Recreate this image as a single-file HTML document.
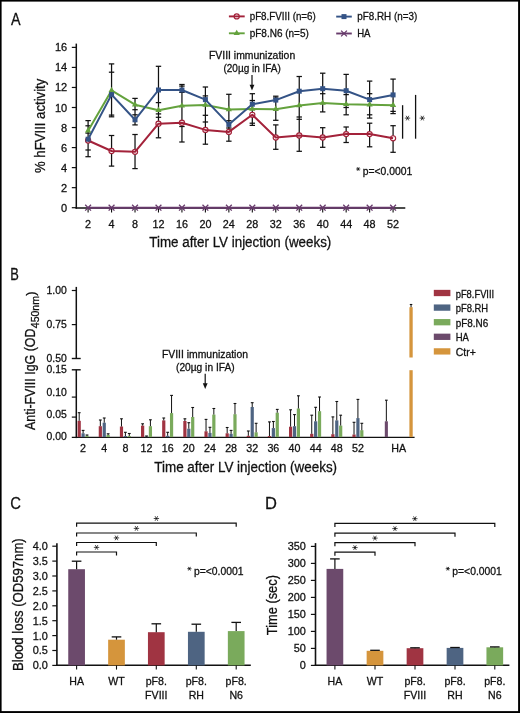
<!DOCTYPE html>
<html><head><meta charset="utf-8"><title>Figure</title>
<style>html,body{margin:0;padding:0;background:#fff;}svg{display:block;will-change:transform;}text{font-family:"Liberation Sans",sans-serif;stroke:#111111;stroke-width:0.28px;}</style>
</head><body>
<svg width="520" height="713" viewBox="0 0 520 713" font-family="Liberation Sans, sans-serif">
<rect x="0" y="0" width="520" height="713" fill="#fff"/>
<text transform="translate(11.10,25.40) scale(0.87,1)" x="0" y="0" font-size="16.5" fill="#111111">A</text>
<line x1="76.30" y1="43.60" x2="76.30" y2="208.70" stroke="#111111" stroke-width="1.5" />
<line x1="71.80" y1="207.70" x2="76.30" y2="207.70" stroke="#111111" stroke-width="1.2" />
<text x="67.20" y="211.70" font-size="11" text-anchor="end" fill="#111111" >0</text>
<line x1="71.80" y1="187.66" x2="76.30" y2="187.66" stroke="#111111" stroke-width="1.2" />
<text x="67.20" y="191.66" font-size="11" text-anchor="end" fill="#111111" >2</text>
<line x1="71.80" y1="167.62" x2="76.30" y2="167.62" stroke="#111111" stroke-width="1.2" />
<text x="67.20" y="171.62" font-size="11" text-anchor="end" fill="#111111" >4</text>
<line x1="71.80" y1="147.58" x2="76.30" y2="147.58" stroke="#111111" stroke-width="1.2" />
<text x="67.20" y="151.58" font-size="11" text-anchor="end" fill="#111111" >6</text>
<line x1="71.80" y1="127.54" x2="76.30" y2="127.54" stroke="#111111" stroke-width="1.2" />
<text x="67.20" y="131.54" font-size="11" text-anchor="end" fill="#111111" >8</text>
<line x1="71.80" y1="107.50" x2="76.30" y2="107.50" stroke="#111111" stroke-width="1.2" />
<text x="67.20" y="111.50" font-size="11" text-anchor="end" fill="#111111" >10</text>
<line x1="71.80" y1="87.46" x2="76.30" y2="87.46" stroke="#111111" stroke-width="1.2" />
<text x="67.20" y="91.46" font-size="11" text-anchor="end" fill="#111111" >12</text>
<line x1="71.80" y1="67.42" x2="76.30" y2="67.42" stroke="#111111" stroke-width="1.2" />
<text x="67.20" y="71.42" font-size="11" text-anchor="end" fill="#111111" >14</text>
<line x1="71.80" y1="47.38" x2="76.30" y2="47.38" stroke="#111111" stroke-width="1.2" />
<text x="67.20" y="51.38" font-size="11" text-anchor="end" fill="#111111" >16</text>
<line x1="75.60" y1="208.00" x2="405.30" y2="208.00" stroke="#111111" stroke-width="1.5" />
<line x1="88.10" y1="207.70" x2="88.10" y2="212.50" stroke="#111111" stroke-width="1.1" />
<line x1="111.56" y1="207.70" x2="111.56" y2="212.50" stroke="#111111" stroke-width="1.1" />
<line x1="135.02" y1="207.70" x2="135.02" y2="212.50" stroke="#111111" stroke-width="1.1" />
<line x1="158.48" y1="207.70" x2="158.48" y2="212.50" stroke="#111111" stroke-width="1.1" />
<line x1="181.94" y1="207.70" x2="181.94" y2="212.50" stroke="#111111" stroke-width="1.1" />
<line x1="205.40" y1="207.70" x2="205.40" y2="212.50" stroke="#111111" stroke-width="1.1" />
<line x1="228.86" y1="207.70" x2="228.86" y2="212.50" stroke="#111111" stroke-width="1.1" />
<line x1="252.32" y1="207.70" x2="252.32" y2="212.50" stroke="#111111" stroke-width="1.1" />
<line x1="275.78" y1="207.70" x2="275.78" y2="212.50" stroke="#111111" stroke-width="1.1" />
<line x1="299.24" y1="207.70" x2="299.24" y2="212.50" stroke="#111111" stroke-width="1.1" />
<line x1="322.70" y1="207.70" x2="322.70" y2="212.50" stroke="#111111" stroke-width="1.1" />
<line x1="346.16" y1="207.70" x2="346.16" y2="212.50" stroke="#111111" stroke-width="1.1" />
<line x1="369.62" y1="207.70" x2="369.62" y2="212.50" stroke="#111111" stroke-width="1.1" />
<line x1="393.08" y1="207.70" x2="393.08" y2="212.50" stroke="#111111" stroke-width="1.1" />
<text x="88.10" y="227.70" font-size="10.8" text-anchor="middle" fill="#111111" >2</text>
<text x="111.56" y="227.70" font-size="10.8" text-anchor="middle" fill="#111111" >4</text>
<text x="135.02" y="227.70" font-size="10.8" text-anchor="middle" fill="#111111" >8</text>
<text x="158.48" y="227.70" font-size="10.8" text-anchor="middle" fill="#111111" >12</text>
<text x="181.94" y="227.70" font-size="10.8" text-anchor="middle" fill="#111111" >16</text>
<text x="205.40" y="227.70" font-size="10.8" text-anchor="middle" fill="#111111" >20</text>
<text x="228.86" y="227.70" font-size="10.8" text-anchor="middle" fill="#111111" >24</text>
<text x="252.32" y="227.70" font-size="10.8" text-anchor="middle" fill="#111111" >28</text>
<text x="275.78" y="227.70" font-size="10.8" text-anchor="middle" fill="#111111" >32</text>
<text x="299.24" y="227.70" font-size="10.8" text-anchor="middle" fill="#111111" >36</text>
<text x="322.70" y="227.70" font-size="10.8" text-anchor="middle" fill="#111111" >40</text>
<text x="346.16" y="227.70" font-size="10.8" text-anchor="middle" fill="#111111" >44</text>
<text x="369.62" y="227.70" font-size="10.8" text-anchor="middle" fill="#111111" >48</text>
<text x="393.08" y="227.70" font-size="10.8" text-anchor="middle" fill="#111111" >52</text>
<text x="149.30" y="247.10" font-size="14" text-anchor="start" fill="#111111" textLength="182.00" lengthAdjust="spacingAndGlyphs" >Time after LV injection (weeks)</text>
<text transform="translate(45.00,173.00) rotate(-90)" x="0" y="0" font-size="14" fill="#111111" textLength="94.30" lengthAdjust="spacingAndGlyphs">% hFVIII activity</text>
<line x1="88.10" y1="207.70" x2="393.08" y2="207.70" stroke="#673a6b" stroke-width="1.9"/>
<line x1="88.10" y1="120.60" x2="88.10" y2="156.70" stroke="#111111" stroke-width="1.25" />
<line x1="85.40" y1="120.60" x2="90.80" y2="120.60" stroke="#111111" stroke-width="1.25" />
<line x1="85.40" y1="125.80" x2="90.80" y2="125.80" stroke="#111111" stroke-width="1.25" />
<line x1="85.40" y1="133.10" x2="90.80" y2="133.10" stroke="#111111" stroke-width="1.25" />
<line x1="85.40" y1="150.00" x2="90.80" y2="150.00" stroke="#111111" stroke-width="1.25" />
<line x1="85.40" y1="156.70" x2="90.80" y2="156.70" stroke="#111111" stroke-width="1.25" />
<line x1="111.56" y1="63.90" x2="111.56" y2="116.80" stroke="#111111" stroke-width="1.25" />
<line x1="111.56" y1="135.50" x2="111.56" y2="166.10" stroke="#111111" stroke-width="1.25" />
<line x1="108.86" y1="63.90" x2="114.26" y2="63.90" stroke="#111111" stroke-width="1.25" />
<line x1="108.86" y1="72.20" x2="114.26" y2="72.20" stroke="#111111" stroke-width="1.25" />
<line x1="108.86" y1="115.10" x2="114.26" y2="115.10" stroke="#111111" stroke-width="1.25" />
<line x1="108.86" y1="116.80" x2="114.26" y2="116.80" stroke="#111111" stroke-width="1.25" />
<line x1="108.86" y1="135.50" x2="114.26" y2="135.50" stroke="#111111" stroke-width="1.25" />
<line x1="108.86" y1="166.10" x2="114.26" y2="166.10" stroke="#111111" stroke-width="1.25" />
<line x1="135.02" y1="98.40" x2="135.02" y2="124.90" stroke="#111111" stroke-width="1.25" />
<line x1="135.02" y1="134.50" x2="135.02" y2="168.60" stroke="#111111" stroke-width="1.25" />
<line x1="132.32" y1="98.40" x2="137.72" y2="98.40" stroke="#111111" stroke-width="1.25" />
<line x1="132.32" y1="109.70" x2="137.72" y2="109.70" stroke="#111111" stroke-width="1.25" />
<line x1="132.32" y1="114.80" x2="137.72" y2="114.80" stroke="#111111" stroke-width="1.25" />
<line x1="132.32" y1="124.90" x2="137.72" y2="124.90" stroke="#111111" stroke-width="1.25" />
<line x1="132.32" y1="134.50" x2="137.72" y2="134.50" stroke="#111111" stroke-width="1.25" />
<line x1="132.32" y1="168.60" x2="137.72" y2="168.60" stroke="#111111" stroke-width="1.25" />
<line x1="158.48" y1="66.30" x2="158.48" y2="137.80" stroke="#111111" stroke-width="1.25" />
<line x1="155.78" y1="66.30" x2="161.18" y2="66.30" stroke="#111111" stroke-width="1.25" />
<line x1="155.78" y1="102.60" x2="161.18" y2="102.60" stroke="#111111" stroke-width="1.25" />
<line x1="155.78" y1="113.90" x2="161.18" y2="113.90" stroke="#111111" stroke-width="1.25" />
<line x1="155.78" y1="117.30" x2="161.18" y2="117.30" stroke="#111111" stroke-width="1.25" />
<line x1="155.78" y1="137.80" x2="161.18" y2="137.80" stroke="#111111" stroke-width="1.25" />
<line x1="181.94" y1="84.50" x2="181.94" y2="142.00" stroke="#111111" stroke-width="1.25" />
<line x1="179.24" y1="84.50" x2="184.64" y2="84.50" stroke="#111111" stroke-width="1.25" />
<line x1="179.24" y1="86.10" x2="184.64" y2="86.10" stroke="#111111" stroke-width="1.25" />
<line x1="179.24" y1="92.40" x2="184.64" y2="92.40" stroke="#111111" stroke-width="1.25" />
<line x1="179.24" y1="126.50" x2="184.64" y2="126.50" stroke="#111111" stroke-width="1.25" />
<line x1="179.24" y1="142.00" x2="184.64" y2="142.00" stroke="#111111" stroke-width="1.25" />
<line x1="205.40" y1="87.00" x2="205.40" y2="144.20" stroke="#111111" stroke-width="1.25" />
<line x1="202.70" y1="87.00" x2="208.10" y2="87.00" stroke="#111111" stroke-width="1.25" />
<line x1="202.70" y1="95.90" x2="208.10" y2="95.90" stroke="#111111" stroke-width="1.25" />
<line x1="202.70" y1="115.30" x2="208.10" y2="115.30" stroke="#111111" stroke-width="1.25" />
<line x1="202.70" y1="122.00" x2="208.10" y2="122.00" stroke="#111111" stroke-width="1.25" />
<line x1="202.70" y1="144.20" x2="208.10" y2="144.20" stroke="#111111" stroke-width="1.25" />
<line x1="228.86" y1="94.30" x2="228.86" y2="141.20" stroke="#111111" stroke-width="1.25" />
<line x1="226.16" y1="94.30" x2="231.56" y2="94.30" stroke="#111111" stroke-width="1.25" />
<line x1="226.16" y1="120.70" x2="231.56" y2="120.70" stroke="#111111" stroke-width="1.25" />
<line x1="226.16" y1="128.00" x2="231.56" y2="128.00" stroke="#111111" stroke-width="1.25" />
<line x1="226.16" y1="141.20" x2="231.56" y2="141.20" stroke="#111111" stroke-width="1.25" />
<line x1="252.32" y1="93.70" x2="252.32" y2="125.40" stroke="#111111" stroke-width="1.25" />
<line x1="249.62" y1="93.70" x2="255.02" y2="93.70" stroke="#111111" stroke-width="1.25" />
<line x1="249.62" y1="100.50" x2="255.02" y2="100.50" stroke="#111111" stroke-width="1.25" />
<line x1="249.62" y1="123.20" x2="255.02" y2="123.20" stroke="#111111" stroke-width="1.25" />
<line x1="249.62" y1="125.40" x2="255.02" y2="125.40" stroke="#111111" stroke-width="1.25" />
<line x1="275.78" y1="96.20" x2="275.78" y2="120.30" stroke="#111111" stroke-width="1.25" />
<line x1="275.78" y1="124.90" x2="275.78" y2="149.30" stroke="#111111" stroke-width="1.25" />
<line x1="273.08" y1="96.20" x2="278.48" y2="96.20" stroke="#111111" stroke-width="1.25" />
<line x1="273.08" y1="98.00" x2="278.48" y2="98.00" stroke="#111111" stroke-width="1.25" />
<line x1="273.08" y1="120.30" x2="278.48" y2="120.30" stroke="#111111" stroke-width="1.25" />
<line x1="273.08" y1="124.90" x2="278.48" y2="124.90" stroke="#111111" stroke-width="1.25" />
<line x1="273.08" y1="149.30" x2="278.48" y2="149.30" stroke="#111111" stroke-width="1.25" />
<line x1="299.24" y1="76.50" x2="299.24" y2="151.30" stroke="#111111" stroke-width="1.25" />
<line x1="296.54" y1="76.50" x2="301.94" y2="76.50" stroke="#111111" stroke-width="1.25" />
<line x1="296.54" y1="117.00" x2="301.94" y2="117.00" stroke="#111111" stroke-width="1.25" />
<line x1="296.54" y1="119.30" x2="301.94" y2="119.30" stroke="#111111" stroke-width="1.25" />
<line x1="296.54" y1="151.30" x2="301.94" y2="151.30" stroke="#111111" stroke-width="1.25" />
<line x1="322.70" y1="73.20" x2="322.70" y2="111.90" stroke="#111111" stroke-width="1.25" />
<line x1="322.70" y1="127.70" x2="322.70" y2="147.30" stroke="#111111" stroke-width="1.25" />
<line x1="320.00" y1="73.20" x2="325.40" y2="73.20" stroke="#111111" stroke-width="1.25" />
<line x1="320.00" y1="93.70" x2="325.40" y2="93.70" stroke="#111111" stroke-width="1.25" />
<line x1="320.00" y1="111.90" x2="325.40" y2="111.90" stroke="#111111" stroke-width="1.25" />
<line x1="320.00" y1="127.70" x2="325.40" y2="127.70" stroke="#111111" stroke-width="1.25" />
<line x1="320.00" y1="147.30" x2="325.40" y2="147.30" stroke="#111111" stroke-width="1.25" />
<line x1="346.16" y1="74.40" x2="346.16" y2="114.80" stroke="#111111" stroke-width="1.25" />
<line x1="346.16" y1="127.00" x2="346.16" y2="142.50" stroke="#111111" stroke-width="1.25" />
<line x1="343.46" y1="74.40" x2="348.86" y2="74.40" stroke="#111111" stroke-width="1.25" />
<line x1="343.46" y1="94.60" x2="348.86" y2="94.60" stroke="#111111" stroke-width="1.25" />
<line x1="343.46" y1="107.50" x2="348.86" y2="107.50" stroke="#111111" stroke-width="1.25" />
<line x1="343.46" y1="114.80" x2="348.86" y2="114.80" stroke="#111111" stroke-width="1.25" />
<line x1="343.46" y1="127.00" x2="348.86" y2="127.00" stroke="#111111" stroke-width="1.25" />
<line x1="343.46" y1="142.50" x2="348.86" y2="142.50" stroke="#111111" stroke-width="1.25" />
<line x1="369.62" y1="81.10" x2="369.62" y2="118.10" stroke="#111111" stroke-width="1.25" />
<line x1="369.62" y1="123.20" x2="369.62" y2="146.80" stroke="#111111" stroke-width="1.25" />
<line x1="366.92" y1="81.10" x2="372.32" y2="81.10" stroke="#111111" stroke-width="1.25" />
<line x1="366.92" y1="93.70" x2="372.32" y2="93.70" stroke="#111111" stroke-width="1.25" />
<line x1="366.92" y1="114.80" x2="372.32" y2="114.80" stroke="#111111" stroke-width="1.25" />
<line x1="366.92" y1="118.10" x2="372.32" y2="118.10" stroke="#111111" stroke-width="1.25" />
<line x1="366.92" y1="123.20" x2="372.32" y2="123.20" stroke="#111111" stroke-width="1.25" />
<line x1="366.92" y1="146.80" x2="372.32" y2="146.80" stroke="#111111" stroke-width="1.25" />
<line x1="393.08" y1="79.10" x2="393.08" y2="113.60" stroke="#111111" stroke-width="1.25" />
<line x1="393.08" y1="125.70" x2="393.08" y2="152.30" stroke="#111111" stroke-width="1.25" />
<line x1="390.38" y1="79.10" x2="395.78" y2="79.10" stroke="#111111" stroke-width="1.25" />
<line x1="390.38" y1="111.40" x2="395.78" y2="111.40" stroke="#111111" stroke-width="1.25" />
<line x1="390.38" y1="113.60" x2="395.78" y2="113.60" stroke="#111111" stroke-width="1.25" />
<line x1="390.38" y1="125.70" x2="395.78" y2="125.70" stroke="#111111" stroke-width="1.25" />
<line x1="390.38" y1="152.30" x2="395.78" y2="152.30" stroke="#111111" stroke-width="1.25" />
<circle cx="88.10" cy="140.50" r="2.55" fill="#fff"/>
<circle cx="111.56" cy="151.00" r="2.55" fill="#fff"/>
<circle cx="135.02" cy="151.80" r="2.55" fill="#fff"/>
<circle cx="158.48" cy="123.70" r="2.55" fill="#fff"/>
<circle cx="181.94" cy="122.70" r="2.55" fill="#fff"/>
<circle cx="205.40" cy="129.90" r="2.55" fill="#fff"/>
<circle cx="228.86" cy="131.90" r="2.55" fill="#fff"/>
<circle cx="252.32" cy="114.80" r="2.55" fill="#fff"/>
<circle cx="275.78" cy="137.50" r="2.55" fill="#fff"/>
<circle cx="299.24" cy="135.50" r="2.55" fill="#fff"/>
<circle cx="322.70" cy="137.50" r="2.55" fill="#fff"/>
<circle cx="346.16" cy="134.10" r="2.55" fill="#fff"/>
<circle cx="369.62" cy="134.10" r="2.55" fill="#fff"/>
<circle cx="393.08" cy="138.30" r="2.55" fill="#fff"/>
<polyline points="88.10,140.50 111.56,151.00 135.02,151.80 158.48,123.70 181.94,122.70 205.40,129.90 228.86,131.90 252.32,114.80 275.78,137.50 299.24,135.50 322.70,137.50 346.16,134.10 369.62,134.10 393.08,138.30" fill="none" stroke="#a3223a" stroke-width="2.0" stroke-linejoin="round"/>
<polyline points="88.10,130.70 111.56,90.40 135.02,104.70 158.48,110.20 181.94,105.80 205.40,105.00 228.86,109.40 252.32,108.90 275.78,109.20 299.24,105.50 322.70,103.00 346.16,104.30 369.62,104.70 393.08,105.20" fill="none" stroke="#64a23d" stroke-width="2.0" stroke-linejoin="round"/>
<polyline points="88.10,139.20 111.56,94.60 135.02,119.80 158.48,90.00 181.94,90.00 205.40,99.60 228.86,124.40 252.32,104.20 275.78,100.10 299.24,91.20 322.70,88.70 346.16,90.70 369.62,99.60 393.08,94.90" fill="none" stroke="#345386" stroke-width="2.0" stroke-linejoin="round"/>
<circle cx="88.10" cy="140.50" r="2.55" fill="none" stroke="#a3223a" stroke-width="1.2"/>
<polygon points="85.00,132.50 91.20,132.50 88.10,127.10" fill="#64a23d"/>
<rect x="85.60" y="136.70" width="5.00" height="5.00" fill="#345386"/>
<path d="M85.20,204.80L91.00,210.60M85.20,210.60L91.00,204.80" stroke="#673a6b" stroke-width="1.3"/>
<circle cx="111.56" cy="151.00" r="2.55" fill="none" stroke="#a3223a" stroke-width="1.2"/>
<polygon points="108.46,92.20 114.66,92.20 111.56,86.80" fill="#64a23d"/>
<rect x="109.06" y="92.10" width="5.00" height="5.00" fill="#345386"/>
<path d="M108.66,204.80L114.46,210.60M108.66,210.60L114.46,204.80" stroke="#673a6b" stroke-width="1.3"/>
<circle cx="135.02" cy="151.80" r="2.55" fill="none" stroke="#a3223a" stroke-width="1.2"/>
<polygon points="131.92,106.50 138.12,106.50 135.02,101.10" fill="#64a23d"/>
<rect x="132.52" y="117.30" width="5.00" height="5.00" fill="#345386"/>
<path d="M132.12,204.80L137.92,210.60M132.12,210.60L137.92,204.80" stroke="#673a6b" stroke-width="1.3"/>
<circle cx="158.48" cy="123.70" r="2.55" fill="none" stroke="#a3223a" stroke-width="1.2"/>
<polygon points="155.38,112.00 161.58,112.00 158.48,106.60" fill="#64a23d"/>
<rect x="155.98" y="87.50" width="5.00" height="5.00" fill="#345386"/>
<path d="M155.58,204.80L161.38,210.60M155.58,210.60L161.38,204.80" stroke="#673a6b" stroke-width="1.3"/>
<circle cx="181.94" cy="122.70" r="2.55" fill="none" stroke="#a3223a" stroke-width="1.2"/>
<polygon points="178.84,107.60 185.04,107.60 181.94,102.20" fill="#64a23d"/>
<rect x="179.44" y="87.50" width="5.00" height="5.00" fill="#345386"/>
<path d="M179.04,204.80L184.84,210.60M179.04,210.60L184.84,204.80" stroke="#673a6b" stroke-width="1.3"/>
<circle cx="205.40" cy="129.90" r="2.55" fill="none" stroke="#a3223a" stroke-width="1.2"/>
<polygon points="202.30,106.80 208.50,106.80 205.40,101.40" fill="#64a23d"/>
<rect x="202.90" y="97.10" width="5.00" height="5.00" fill="#345386"/>
<path d="M202.50,204.80L208.30,210.60M202.50,210.60L208.30,204.80" stroke="#673a6b" stroke-width="1.3"/>
<circle cx="228.86" cy="131.90" r="2.55" fill="none" stroke="#a3223a" stroke-width="1.2"/>
<polygon points="225.76,111.20 231.96,111.20 228.86,105.80" fill="#64a23d"/>
<rect x="226.36" y="121.90" width="5.00" height="5.00" fill="#345386"/>
<path d="M225.96,204.80L231.76,210.60M225.96,210.60L231.76,204.80" stroke="#673a6b" stroke-width="1.3"/>
<circle cx="252.32" cy="114.80" r="2.55" fill="none" stroke="#a3223a" stroke-width="1.2"/>
<polygon points="249.22,110.70 255.42,110.70 252.32,105.30" fill="#64a23d"/>
<rect x="249.82" y="101.70" width="5.00" height="5.00" fill="#345386"/>
<path d="M249.42,204.80L255.22,210.60M249.42,210.60L255.22,204.80" stroke="#673a6b" stroke-width="1.3"/>
<circle cx="275.78" cy="137.50" r="2.55" fill="none" stroke="#a3223a" stroke-width="1.2"/>
<polygon points="272.68,111.00 278.88,111.00 275.78,105.60" fill="#64a23d"/>
<rect x="273.28" y="97.60" width="5.00" height="5.00" fill="#345386"/>
<path d="M272.88,204.80L278.68,210.60M272.88,210.60L278.68,204.80" stroke="#673a6b" stroke-width="1.3"/>
<circle cx="299.24" cy="135.50" r="2.55" fill="none" stroke="#a3223a" stroke-width="1.2"/>
<polygon points="296.14,107.30 302.34,107.30 299.24,101.90" fill="#64a23d"/>
<rect x="296.74" y="88.70" width="5.00" height="5.00" fill="#345386"/>
<path d="M296.34,204.80L302.14,210.60M296.34,210.60L302.14,204.80" stroke="#673a6b" stroke-width="1.3"/>
<circle cx="322.70" cy="137.50" r="2.55" fill="none" stroke="#a3223a" stroke-width="1.2"/>
<polygon points="319.60,104.80 325.80,104.80 322.70,99.40" fill="#64a23d"/>
<rect x="320.20" y="86.20" width="5.00" height="5.00" fill="#345386"/>
<path d="M319.80,204.80L325.60,210.60M319.80,210.60L325.60,204.80" stroke="#673a6b" stroke-width="1.3"/>
<circle cx="346.16" cy="134.10" r="2.55" fill="none" stroke="#a3223a" stroke-width="1.2"/>
<polygon points="343.06,106.10 349.26,106.10 346.16,100.70" fill="#64a23d"/>
<rect x="343.66" y="88.20" width="5.00" height="5.00" fill="#345386"/>
<path d="M343.26,204.80L349.06,210.60M343.26,210.60L349.06,204.80" stroke="#673a6b" stroke-width="1.3"/>
<circle cx="369.62" cy="134.10" r="2.55" fill="none" stroke="#a3223a" stroke-width="1.2"/>
<polygon points="366.52,106.50 372.72,106.50 369.62,101.10" fill="#64a23d"/>
<rect x="367.12" y="97.10" width="5.00" height="5.00" fill="#345386"/>
<path d="M366.72,204.80L372.52,210.60M366.72,210.60L372.52,204.80" stroke="#673a6b" stroke-width="1.3"/>
<circle cx="393.08" cy="138.30" r="2.55" fill="none" stroke="#a3223a" stroke-width="1.2"/>
<polygon points="389.98,107.00 396.18,107.00 393.08,101.60" fill="#64a23d"/>
<rect x="390.58" y="92.40" width="5.00" height="5.00" fill="#345386"/>
<path d="M390.18,204.80L395.98,210.60M390.18,210.60L395.98,204.80" stroke="#673a6b" stroke-width="1.3"/>
<text x="209.00" y="58.70" font-size="10.2" text-anchor="start" fill="#111111" textLength="86.20" lengthAdjust="spacingAndGlyphs" >FVIII immunization</text>
<text x="223.50" y="71.70" font-size="10.2" text-anchor="start" fill="#111111" textLength="57.30" lengthAdjust="spacingAndGlyphs" >(20µg in IFA)</text>
<line x1="252.00" y1="75.00" x2="252.00" y2="86.00" stroke="#111111" stroke-width="1.2" />
<polygon points="249.6,84.8 254.4,84.8 252.0,90.6" fill="#111111"/>
<line x1="402.60" y1="105.20" x2="402.60" y2="138.70" stroke="#111111" stroke-width="1.3" />
<path d="M405.20,118.10L409.80,118.10M406.35,116.11L408.65,120.09M408.65,116.11L406.35,120.09" stroke="#111111" stroke-width="0.75" stroke-linecap="round" fill="none"/>
<circle cx="407.50" cy="118.10" r="0.6" fill="#111111"/>
<line x1="415.60" y1="94.90" x2="415.60" y2="138.70" stroke="#111111" stroke-width="1.3" />
<path d="M420.00,118.10L424.60,118.10M421.15,116.11L423.45,120.09M423.45,116.11L421.15,120.09" stroke="#111111" stroke-width="0.75" stroke-linecap="round" fill="none"/>
<circle cx="422.30" cy="118.10" r="0.6" fill="#111111"/>
<path d="M356.50,169.00L359.90,169.00M357.35,167.53L359.05,170.47M359.05,167.53L357.35,170.47" stroke="#111111" stroke-width="0.8" stroke-linecap="round" fill="none"/>
<circle cx="358.20" cy="169.00" r="0.6" fill="#111111"/>
<text x="362.70" y="174.90" font-size="10.2" text-anchor="start" fill="#111111" textLength="49.60" lengthAdjust="spacingAndGlyphs" >p=&lt;0.0001</text>
<line x1="228.90" y1="16.40" x2="244.70" y2="16.40" stroke="#a3223a" stroke-width="1.9" />
<circle cx="236.70" cy="16.40" r="2.55" fill="none" stroke="#a3223a" stroke-width="1.2"/>
<text x="249.70" y="19.80" font-size="10.5" text-anchor="start" fill="#111111" textLength="66.10" lengthAdjust="spacingAndGlyphs" >pF8.FVIII (n=6)</text>
<line x1="228.90" y1="33.30" x2="244.70" y2="33.30" stroke="#64a23d" stroke-width="1.9" />
<polygon points="233.60,35.10 239.80,35.10 236.70,29.70" fill="#64a23d"/>
<text x="249.70" y="36.70" font-size="10.5" text-anchor="start" fill="#111111" textLength="59.10" lengthAdjust="spacingAndGlyphs" >pF8.N6 (n=5)</text>
<line x1="336.20" y1="16.60" x2="351.80" y2="16.60" stroke="#345386" stroke-width="1.9" />
<rect x="341.50" y="14.10" width="5.00" height="5.00" fill="#345386"/>
<text x="357.20" y="19.80" font-size="10.5" text-anchor="start" fill="#111111" textLength="60.00" lengthAdjust="spacingAndGlyphs" >pF8.RH (n=3)</text>
<line x1="336.20" y1="33.50" x2="351.80" y2="33.50" stroke="#673a6b" stroke-width="1.9" />
<path d="M341.10,30.60L346.90,36.40M341.10,36.40L346.90,30.60" stroke="#673a6b" stroke-width="1.3"/>
<text x="357.20" y="36.70" font-size="10.5" text-anchor="start" fill="#111111" textLength="13.30" lengthAdjust="spacingAndGlyphs" >HA</text>
<text transform="translate(10.20,279.60) scale(0.78,1)" x="0" y="0" font-size="16.5" fill="#111111">B</text>
<line x1="76.30" y1="286.90" x2="76.30" y2="358.50" stroke="#111111" stroke-width="1.5" />
<line x1="71.80" y1="290.50" x2="76.30" y2="290.50" stroke="#111111" stroke-width="1.2" />
<line x1="71.80" y1="324.60" x2="76.30" y2="324.60" stroke="#111111" stroke-width="1.2" />
<line x1="71.80" y1="358.50" x2="80.70" y2="358.50" stroke="#111111" stroke-width="1.4" />
<line x1="76.30" y1="369.80" x2="76.30" y2="438.10" stroke="#111111" stroke-width="1.5" />
<line x1="71.80" y1="369.80" x2="80.70" y2="369.80" stroke="#111111" stroke-width="1.4" />
<line x1="71.80" y1="397.10" x2="76.30" y2="397.10" stroke="#111111" stroke-width="1.2" />
<line x1="71.80" y1="417.10" x2="76.30" y2="417.10" stroke="#111111" stroke-width="1.2" />
<line x1="71.80" y1="437.40" x2="414.60" y2="437.40" stroke="#111111" stroke-width="1.4" />
<text x="66.80" y="294.20" font-size="10.4" text-anchor="end" fill="#111111" >1.00</text>
<text x="66.80" y="328.30" font-size="10.4" text-anchor="end" fill="#111111" >0.75</text>
<text x="66.80" y="362.20" font-size="10.4" text-anchor="end" fill="#111111" >0.50</text>
<text x="66.80" y="373.30" font-size="10.4" text-anchor="end" fill="#111111" >0.15</text>
<text x="66.80" y="395.70" font-size="10.4" text-anchor="end" fill="#111111" >0.10</text>
<text x="66.80" y="418.40" font-size="10.4" text-anchor="end" fill="#111111" >0.05</text>
<text x="66.80" y="440.40" font-size="10.4" text-anchor="end" fill="#111111" >0.00</text>
<rect x="77.60" y="420.80" width="3.20" height="16.30" fill="#a03442"/>
<line x1="79.20" y1="412.70" x2="79.20" y2="420.80" stroke="#111111" stroke-width="1.0" />
<line x1="77.80" y1="412.70" x2="80.60" y2="412.70" stroke="#111111" stroke-width="1.1" />
<rect x="81.50" y="433.30" width="3.20" height="3.80" fill="#4e6482"/>
<line x1="83.10" y1="430.40" x2="83.10" y2="433.30" stroke="#111111" stroke-width="1.0" />
<line x1="81.70" y1="430.40" x2="84.50" y2="430.40" stroke="#111111" stroke-width="1.1" />
<rect x="85.40" y="435.80" width="3.20" height="1.30" fill="#7aaa5c"/>
<line x1="87.00" y1="435.00" x2="87.00" y2="435.80" stroke="#111111" stroke-width="1.0" />
<line x1="85.60" y1="435.00" x2="88.40" y2="435.00" stroke="#111111" stroke-width="1.1" />
<rect x="98.74" y="426.20" width="3.20" height="10.90" fill="#a03442"/>
<line x1="100.34" y1="420.00" x2="100.34" y2="426.20" stroke="#111111" stroke-width="1.0" />
<line x1="98.94" y1="420.00" x2="101.74" y2="420.00" stroke="#111111" stroke-width="1.1" />
<rect x="102.64" y="422.70" width="3.20" height="14.40" fill="#4e6482"/>
<line x1="104.24" y1="418.00" x2="104.24" y2="422.70" stroke="#111111" stroke-width="1.0" />
<line x1="102.84" y1="418.00" x2="105.64" y2="418.00" stroke="#111111" stroke-width="1.1" />
<rect x="106.54" y="435.00" width="3.20" height="2.10" fill="#7aaa5c"/>
<line x1="108.14" y1="433.80" x2="108.14" y2="435.00" stroke="#111111" stroke-width="1.0" />
<line x1="106.74" y1="433.80" x2="109.54" y2="433.80" stroke="#111111" stroke-width="1.1" />
<rect x="119.88" y="426.50" width="3.20" height="10.60" fill="#a03442"/>
<line x1="121.48" y1="418.80" x2="121.48" y2="426.50" stroke="#111111" stroke-width="1.0" />
<line x1="120.08" y1="418.80" x2="122.88" y2="418.80" stroke="#111111" stroke-width="1.1" />
<rect x="123.78" y="436.00" width="3.20" height="1.10" fill="#4e6482"/>
<line x1="125.38" y1="432.30" x2="125.38" y2="436.00" stroke="#111111" stroke-width="1.0" />
<line x1="123.98" y1="432.30" x2="126.78" y2="432.30" stroke="#111111" stroke-width="1.1" />
<rect x="127.68" y="436.00" width="3.20" height="1.10" fill="#7aaa5c"/>
<line x1="129.28" y1="433.50" x2="129.28" y2="436.00" stroke="#111111" stroke-width="1.0" />
<line x1="127.88" y1="433.50" x2="130.68" y2="433.50" stroke="#111111" stroke-width="1.1" />
<rect x="141.02" y="425.60" width="3.20" height="11.50" fill="#a03442"/>
<line x1="142.62" y1="423.80" x2="142.62" y2="425.60" stroke="#111111" stroke-width="1.0" />
<line x1="141.22" y1="423.80" x2="144.02" y2="423.80" stroke="#111111" stroke-width="1.1" />
<rect x="144.92" y="436.60" width="3.20" height="0.50" fill="#4e6482"/>
<line x1="146.52" y1="436.00" x2="146.52" y2="436.60" stroke="#111111" stroke-width="1.0" />
<line x1="145.12" y1="436.00" x2="147.92" y2="436.00" stroke="#111111" stroke-width="1.1" />
<rect x="148.82" y="426.20" width="3.20" height="10.90" fill="#7aaa5c"/>
<line x1="150.42" y1="419.80" x2="150.42" y2="426.20" stroke="#111111" stroke-width="1.0" />
<line x1="149.02" y1="419.80" x2="151.82" y2="419.80" stroke="#111111" stroke-width="1.1" />
<rect x="162.16" y="420.40" width="3.20" height="16.70" fill="#a03442"/>
<line x1="163.76" y1="418.00" x2="163.76" y2="420.40" stroke="#111111" stroke-width="1.0" />
<line x1="162.36" y1="418.00" x2="165.16" y2="418.00" stroke="#111111" stroke-width="1.1" />
<rect x="166.06" y="435.80" width="3.20" height="1.30" fill="#4e6482"/>
<line x1="167.66" y1="432.30" x2="167.66" y2="435.80" stroke="#111111" stroke-width="1.0" />
<line x1="166.26" y1="432.30" x2="169.06" y2="432.30" stroke="#111111" stroke-width="1.1" />
<rect x="169.96" y="413.10" width="3.20" height="24.00" fill="#7aaa5c"/>
<line x1="171.56" y1="395.40" x2="171.56" y2="413.10" stroke="#111111" stroke-width="1.0" />
<line x1="170.16" y1="395.40" x2="172.96" y2="395.40" stroke="#111111" stroke-width="1.1" />
<rect x="183.30" y="421.00" width="3.20" height="16.10" fill="#a03442"/>
<line x1="184.90" y1="418.80" x2="184.90" y2="421.00" stroke="#111111" stroke-width="1.0" />
<line x1="183.50" y1="418.80" x2="186.30" y2="418.80" stroke="#111111" stroke-width="1.1" />
<rect x="187.20" y="428.70" width="3.20" height="8.40" fill="#4e6482"/>
<line x1="188.80" y1="422.70" x2="188.80" y2="428.70" stroke="#111111" stroke-width="1.0" />
<line x1="187.40" y1="422.70" x2="190.20" y2="422.70" stroke="#111111" stroke-width="1.1" />
<rect x="191.10" y="417.00" width="3.20" height="20.10" fill="#7aaa5c"/>
<line x1="192.70" y1="407.50" x2="192.70" y2="417.00" stroke="#111111" stroke-width="1.0" />
<line x1="191.30" y1="407.50" x2="194.10" y2="407.50" stroke="#111111" stroke-width="1.1" />
<rect x="204.44" y="431.30" width="3.20" height="5.80" fill="#a03442"/>
<line x1="206.04" y1="419.40" x2="206.04" y2="431.30" stroke="#111111" stroke-width="1.0" />
<line x1="204.64" y1="419.40" x2="207.44" y2="419.40" stroke="#111111" stroke-width="1.1" />
<rect x="208.34" y="432.90" width="3.20" height="4.20" fill="#4e6482"/>
<line x1="209.94" y1="427.30" x2="209.94" y2="432.90" stroke="#111111" stroke-width="1.0" />
<line x1="208.54" y1="427.30" x2="211.34" y2="427.30" stroke="#111111" stroke-width="1.1" />
<rect x="212.24" y="414.60" width="3.20" height="22.50" fill="#7aaa5c"/>
<line x1="213.84" y1="408.50" x2="213.84" y2="414.60" stroke="#111111" stroke-width="1.0" />
<line x1="212.44" y1="408.50" x2="215.24" y2="408.50" stroke="#111111" stroke-width="1.1" />
<rect x="225.58" y="433.30" width="3.20" height="3.80" fill="#a03442"/>
<line x1="227.18" y1="427.50" x2="227.18" y2="433.30" stroke="#111111" stroke-width="1.0" />
<line x1="225.78" y1="427.50" x2="228.58" y2="427.50" stroke="#111111" stroke-width="1.1" />
<rect x="229.48" y="433.80" width="3.20" height="3.30" fill="#4e6482"/>
<line x1="231.08" y1="430.40" x2="231.08" y2="433.80" stroke="#111111" stroke-width="1.0" />
<line x1="229.68" y1="430.40" x2="232.48" y2="430.40" stroke="#111111" stroke-width="1.1" />
<rect x="233.38" y="414.20" width="3.20" height="22.90" fill="#7aaa5c"/>
<line x1="234.98" y1="403.50" x2="234.98" y2="414.20" stroke="#111111" stroke-width="1.0" />
<line x1="233.58" y1="403.50" x2="236.38" y2="403.50" stroke="#111111" stroke-width="1.1" />
<rect x="246.72" y="435.80" width="3.20" height="1.30" fill="#a03442"/>
<line x1="248.32" y1="431.00" x2="248.32" y2="435.80" stroke="#111111" stroke-width="1.0" />
<line x1="246.92" y1="431.00" x2="249.72" y2="431.00" stroke="#111111" stroke-width="1.1" />
<rect x="250.62" y="407.00" width="3.20" height="30.10" fill="#4e6482"/>
<line x1="252.22" y1="402.70" x2="252.22" y2="407.00" stroke="#111111" stroke-width="1.0" />
<line x1="250.82" y1="402.70" x2="253.62" y2="402.70" stroke="#111111" stroke-width="1.1" />
<rect x="254.52" y="432.30" width="3.20" height="4.80" fill="#7aaa5c"/>
<line x1="256.12" y1="423.30" x2="256.12" y2="432.30" stroke="#111111" stroke-width="1.0" />
<line x1="254.72" y1="423.30" x2="257.52" y2="423.30" stroke="#111111" stroke-width="1.1" />
<rect x="267.86" y="436.00" width="3.20" height="1.10" fill="#a03442"/>
<line x1="269.46" y1="421.90" x2="269.46" y2="436.00" stroke="#111111" stroke-width="1.0" />
<line x1="268.06" y1="421.90" x2="270.86" y2="421.90" stroke="#111111" stroke-width="1.1" />
<rect x="271.76" y="428.10" width="3.20" height="9.00" fill="#4e6482"/>
<line x1="273.36" y1="421.50" x2="273.36" y2="428.10" stroke="#111111" stroke-width="1.0" />
<line x1="271.96" y1="421.50" x2="274.76" y2="421.50" stroke="#111111" stroke-width="1.1" />
<rect x="275.66" y="412.70" width="3.20" height="24.40" fill="#7aaa5c"/>
<line x1="277.26" y1="409.40" x2="277.26" y2="412.70" stroke="#111111" stroke-width="1.0" />
<line x1="275.86" y1="409.40" x2="278.66" y2="409.40" stroke="#111111" stroke-width="1.1" />
<rect x="289.00" y="426.70" width="3.20" height="10.40" fill="#a03442"/>
<line x1="290.60" y1="409.80" x2="290.60" y2="426.70" stroke="#111111" stroke-width="1.0" />
<line x1="289.20" y1="409.80" x2="292.00" y2="409.80" stroke="#111111" stroke-width="1.1" />
<rect x="292.90" y="426.20" width="3.20" height="10.90" fill="#4e6482"/>
<line x1="294.50" y1="414.60" x2="294.50" y2="426.20" stroke="#111111" stroke-width="1.0" />
<line x1="293.10" y1="414.60" x2="295.90" y2="414.60" stroke="#111111" stroke-width="1.1" />
<rect x="296.80" y="408.50" width="3.20" height="28.60" fill="#7aaa5c"/>
<line x1="298.40" y1="395.80" x2="298.40" y2="408.50" stroke="#111111" stroke-width="1.0" />
<line x1="297.00" y1="395.80" x2="299.80" y2="395.80" stroke="#111111" stroke-width="1.1" />
<rect x="310.14" y="433.80" width="3.20" height="3.30" fill="#a03442"/>
<line x1="311.74" y1="415.20" x2="311.74" y2="433.80" stroke="#111111" stroke-width="1.0" />
<line x1="310.34" y1="415.20" x2="313.14" y2="415.20" stroke="#111111" stroke-width="1.1" />
<rect x="314.04" y="421.30" width="3.20" height="15.80" fill="#4e6482"/>
<line x1="315.64" y1="407.30" x2="315.64" y2="421.30" stroke="#111111" stroke-width="1.0" />
<line x1="314.24" y1="407.30" x2="317.04" y2="407.30" stroke="#111111" stroke-width="1.1" />
<rect x="317.94" y="411.20" width="3.20" height="25.90" fill="#7aaa5c"/>
<line x1="319.54" y1="397.00" x2="319.54" y2="411.20" stroke="#111111" stroke-width="1.0" />
<line x1="318.14" y1="397.00" x2="320.94" y2="397.00" stroke="#111111" stroke-width="1.1" />
<rect x="331.28" y="434.20" width="3.20" height="2.90" fill="#a03442"/>
<line x1="332.88" y1="416.90" x2="332.88" y2="434.20" stroke="#111111" stroke-width="1.0" />
<line x1="331.48" y1="416.90" x2="334.28" y2="416.90" stroke="#111111" stroke-width="1.1" />
<rect x="335.18" y="420.40" width="3.20" height="16.70" fill="#4e6482"/>
<line x1="336.78" y1="401.50" x2="336.78" y2="420.40" stroke="#111111" stroke-width="1.0" />
<line x1="335.38" y1="401.50" x2="338.18" y2="401.50" stroke="#111111" stroke-width="1.1" />
<rect x="339.08" y="425.60" width="3.20" height="11.50" fill="#7aaa5c"/>
<line x1="340.68" y1="415.20" x2="340.68" y2="425.60" stroke="#111111" stroke-width="1.0" />
<line x1="339.28" y1="415.20" x2="342.08" y2="415.20" stroke="#111111" stroke-width="1.1" />
<rect x="352.42" y="434.50" width="3.20" height="2.60" fill="#a03442"/>
<line x1="354.02" y1="422.30" x2="354.02" y2="434.50" stroke="#111111" stroke-width="1.0" />
<line x1="352.62" y1="422.30" x2="355.42" y2="422.30" stroke="#111111" stroke-width="1.1" />
<rect x="356.32" y="418.10" width="3.20" height="19.00" fill="#4e6482"/>
<line x1="357.92" y1="399.40" x2="357.92" y2="418.10" stroke="#111111" stroke-width="1.0" />
<line x1="356.52" y1="399.40" x2="359.32" y2="399.40" stroke="#111111" stroke-width="1.1" />
<rect x="360.22" y="430.20" width="3.20" height="6.90" fill="#7aaa5c"/>
<line x1="361.82" y1="423.30" x2="361.82" y2="430.20" stroke="#111111" stroke-width="1.0" />
<line x1="360.42" y1="423.30" x2="363.22" y2="423.30" stroke="#111111" stroke-width="1.1" />
<rect x="384.80" y="421.30" width="3.10" height="15.80" fill="#6c4a6c"/>
<line x1="386.35" y1="400.20" x2="386.35" y2="421.30" stroke="#111111" stroke-width="1.0" />
<line x1="385.00" y1="400.20" x2="387.70" y2="400.20" stroke="#111111" stroke-width="1.1" />
<rect x="409.40" y="370.20" width="3.30" height="66.90" fill="#d5953c"/>
<rect x="409.40" y="307.20" width="3.30" height="50.30" fill="#d5953c"/>
<line x1="411.05" y1="304.50" x2="411.05" y2="307.20" stroke="#111111" stroke-width="1.0" />
<line x1="409.80" y1="304.50" x2="412.30" y2="304.50" stroke="#111111" stroke-width="1.1" />
<text x="83.10" y="451.90" font-size="10.7" text-anchor="middle" fill="#111111" >2</text>
<text x="104.24" y="451.90" font-size="10.7" text-anchor="middle" fill="#111111" >4</text>
<text x="125.38" y="451.90" font-size="10.7" text-anchor="middle" fill="#111111" >8</text>
<text x="146.52" y="451.90" font-size="10.7" text-anchor="middle" fill="#111111" >12</text>
<text x="167.66" y="451.90" font-size="10.7" text-anchor="middle" fill="#111111" >16</text>
<text x="188.80" y="451.90" font-size="10.7" text-anchor="middle" fill="#111111" >20</text>
<text x="209.94" y="451.90" font-size="10.7" text-anchor="middle" fill="#111111" >24</text>
<text x="231.08" y="451.90" font-size="10.7" text-anchor="middle" fill="#111111" >28</text>
<text x="252.22" y="451.90" font-size="10.7" text-anchor="middle" fill="#111111" >32</text>
<text x="273.36" y="451.90" font-size="10.7" text-anchor="middle" fill="#111111" >36</text>
<text x="294.50" y="451.90" font-size="10.7" text-anchor="middle" fill="#111111" >40</text>
<text x="315.64" y="451.90" font-size="10.7" text-anchor="middle" fill="#111111" >44</text>
<text x="336.78" y="451.90" font-size="10.7" text-anchor="middle" fill="#111111" >48</text>
<text x="357.92" y="451.90" font-size="10.7" text-anchor="middle" fill="#111111" >52</text>
<text x="398.80" y="451.90" font-size="10.7" text-anchor="middle" fill="#111111" >HA</text>
<text x="154.30" y="472.10" font-size="14" text-anchor="start" fill="#111111" textLength="182.80" lengthAdjust="spacingAndGlyphs" >Time after LV injection (weeks)</text>
<text transform="translate(35.40,430.00) rotate(-90)" x="0" y="0" font-size="14" fill="#111111" textLength="101.40" lengthAdjust="spacingAndGlyphs">Anti-FVIII IgG (OD</text>
<text transform="translate(38.50,328.20) rotate(-90)" x="0" y="0" font-size="10" fill="#111111" textLength="32.20" lengthAdjust="spacingAndGlyphs">450nm</text>
<text transform="translate(34.80,295.80) rotate(-90)" x="0" y="0" font-size="12.8" fill="#111111">)</text>
<text x="161.90" y="358.10" font-size="10.0" text-anchor="start" fill="#111111" textLength="86.10" lengthAdjust="spacingAndGlyphs" >FVIII immunization</text>
<text x="176.00" y="371.00" font-size="10.0" text-anchor="start" fill="#111111" textLength="58.60" lengthAdjust="spacingAndGlyphs" >(20µg in IFA)</text>
<line x1="205.20" y1="373.80" x2="205.20" y2="384.50" stroke="#111111" stroke-width="1.2" />
<polygon points="202.8,383.2 207.6,383.2 205.2,389.0" fill="#111111"/>
<rect x="433.80" y="289.85" width="16.60" height="6.30" fill="#a03442"/>
<text x="455.70" y="297.50" font-size="10.3" text-anchor="start" fill="#111111" textLength="38.50" lengthAdjust="spacingAndGlyphs" >pF8.FVIII</text>
<rect x="433.80" y="304.45" width="16.60" height="6.30" fill="#4e6482"/>
<text x="455.70" y="312.10" font-size="10.3" text-anchor="start" fill="#111111" textLength="32.50" lengthAdjust="spacingAndGlyphs" >pF8.RH</text>
<rect x="433.80" y="319.05" width="16.60" height="6.30" fill="#7aaa5c"/>
<text x="455.70" y="326.70" font-size="10.3" text-anchor="start" fill="#111111" textLength="32.50" lengthAdjust="spacingAndGlyphs" >pF8.N6</text>
<rect x="433.80" y="333.65" width="16.60" height="6.30" fill="#6c4a6c"/>
<text x="455.70" y="341.30" font-size="10.3" text-anchor="start" fill="#111111" textLength="13.20" lengthAdjust="spacingAndGlyphs" >HA</text>
<rect x="433.80" y="348.25" width="16.60" height="6.30" fill="#d5953c"/>
<text x="455.70" y="355.90" font-size="10.3" text-anchor="start" fill="#111111" textLength="20.10" lengthAdjust="spacingAndGlyphs" >Ctr+</text>
<text transform="translate(10.20,508.90) scale(0.9,1)" x="0" y="0" font-size="16.5" fill="#111111">C</text>
<line x1="56.90" y1="543.20" x2="56.90" y2="666.00" stroke="#111111" stroke-width="1.6" />
<line x1="52.30" y1="546.20" x2="56.90" y2="546.20" stroke="#111111" stroke-width="1.2" />
<text x="47.90" y="550.10" font-size="10.9" text-anchor="end" fill="#111111" >4.0</text>
<line x1="52.30" y1="561.10" x2="56.90" y2="561.10" stroke="#111111" stroke-width="1.2" />
<text x="47.90" y="565.00" font-size="10.9" text-anchor="end" fill="#111111" >3.5</text>
<line x1="52.30" y1="576.00" x2="56.90" y2="576.00" stroke="#111111" stroke-width="1.2" />
<text x="47.90" y="579.90" font-size="10.9" text-anchor="end" fill="#111111" >3.0</text>
<line x1="52.30" y1="590.90" x2="56.90" y2="590.90" stroke="#111111" stroke-width="1.2" />
<text x="47.90" y="594.80" font-size="10.9" text-anchor="end" fill="#111111" >2.5</text>
<line x1="52.30" y1="605.80" x2="56.90" y2="605.80" stroke="#111111" stroke-width="1.2" />
<text x="47.90" y="609.70" font-size="10.9" text-anchor="end" fill="#111111" >2.0</text>
<line x1="52.30" y1="620.70" x2="56.90" y2="620.70" stroke="#111111" stroke-width="1.2" />
<text x="47.90" y="624.60" font-size="10.9" text-anchor="end" fill="#111111" >1.5</text>
<line x1="52.30" y1="635.60" x2="56.90" y2="635.60" stroke="#111111" stroke-width="1.2" />
<text x="47.90" y="639.50" font-size="10.9" text-anchor="end" fill="#111111" >1.0</text>
<line x1="52.30" y1="650.50" x2="56.90" y2="650.50" stroke="#111111" stroke-width="1.2" />
<text x="47.90" y="654.40" font-size="10.9" text-anchor="end" fill="#111111" >0.5</text>
<line x1="52.30" y1="665.40" x2="56.90" y2="665.40" stroke="#111111" stroke-width="1.2" />
<text x="47.90" y="669.30" font-size="10.9" text-anchor="end" fill="#111111" >0.0</text>
<line x1="56.20" y1="665.30" x2="250.80" y2="665.30" stroke="#111111" stroke-width="1.4" />
<rect x="68.25" y="569.20" width="16.70" height="96.20" fill="#6c4a6c"/>
<line x1="76.60" y1="561.20" x2="76.60" y2="569.20" stroke="#111111" stroke-width="1.2" />
<line x1="71.80" y1="561.20" x2="81.40" y2="561.20" stroke="#111111" stroke-width="1.3" />
<line x1="76.60" y1="665.40" x2="76.60" y2="669.60" stroke="#111111" stroke-width="1.1" />
<rect x="108.15" y="639.70" width="16.70" height="25.70" fill="#d5953c"/>
<line x1="116.50" y1="636.90" x2="116.50" y2="639.70" stroke="#111111" stroke-width="1.2" />
<line x1="111.70" y1="636.90" x2="121.30" y2="636.90" stroke="#111111" stroke-width="1.3" />
<line x1="116.50" y1="665.40" x2="116.50" y2="669.60" stroke="#111111" stroke-width="1.1" />
<rect x="147.95" y="632.20" width="16.70" height="33.20" fill="#a03442"/>
<line x1="156.30" y1="623.80" x2="156.30" y2="632.20" stroke="#111111" stroke-width="1.2" />
<line x1="151.50" y1="623.80" x2="161.10" y2="623.80" stroke="#111111" stroke-width="1.3" />
<line x1="156.30" y1="665.40" x2="156.30" y2="669.60" stroke="#111111" stroke-width="1.1" />
<rect x="187.95" y="631.80" width="16.70" height="33.60" fill="#4e6482"/>
<line x1="196.30" y1="624.20" x2="196.30" y2="631.80" stroke="#111111" stroke-width="1.2" />
<line x1="191.50" y1="624.20" x2="201.10" y2="624.20" stroke="#111111" stroke-width="1.3" />
<line x1="196.30" y1="665.40" x2="196.30" y2="669.60" stroke="#111111" stroke-width="1.1" />
<rect x="227.85" y="631.10" width="16.70" height="34.30" fill="#7aaa5c"/>
<line x1="236.20" y1="622.40" x2="236.20" y2="631.10" stroke="#111111" stroke-width="1.2" />
<line x1="231.40" y1="622.40" x2="241.00" y2="622.40" stroke="#111111" stroke-width="1.3" />
<line x1="236.20" y1="665.40" x2="236.20" y2="669.60" stroke="#111111" stroke-width="1.1" />
<text x="76.60" y="685.00" font-size="10.6" text-anchor="middle" fill="#111111" >HA</text>
<text x="116.50" y="685.00" font-size="10.6" text-anchor="middle" fill="#111111" >WT</text>
<text x="156.30" y="685.00" font-size="10.6" text-anchor="middle" fill="#111111" >pF8.</text>
<text x="156.30" y="699.30" font-size="10.6" text-anchor="middle" fill="#111111" >FVIII</text>
<text x="196.30" y="685.00" font-size="10.6" text-anchor="middle" fill="#111111" >pF8.</text>
<text x="196.30" y="699.30" font-size="10.6" text-anchor="middle" fill="#111111" >RH</text>
<text x="236.20" y="685.00" font-size="10.6" text-anchor="middle" fill="#111111" >pF8.</text>
<text x="236.20" y="699.30" font-size="10.6" text-anchor="middle" fill="#111111" >N6</text>
<path d="M76.60,555.60V552.00H116.50V555.60" fill="none" stroke="#111111" stroke-width="1.2"/>
<path d="M94.25,547.40L98.85,547.40M95.40,545.41L97.70,549.39M97.70,545.41L95.40,549.39" stroke="#111111" stroke-width="0.75" stroke-linecap="round" fill="none"/>
<circle cx="96.55" cy="547.40" r="0.6" fill="#111111"/>
<path d="M76.60,546.10V542.50H156.30V546.10" fill="none" stroke="#111111" stroke-width="1.2"/>
<path d="M114.15,537.90L118.75,537.90M115.30,535.91L117.60,539.89M117.60,535.91L115.30,539.89" stroke="#111111" stroke-width="0.75" stroke-linecap="round" fill="none"/>
<circle cx="116.45" cy="537.90" r="0.6" fill="#111111"/>
<path d="M76.60,536.60V533.00H196.30V536.60" fill="none" stroke="#111111" stroke-width="1.2"/>
<path d="M134.15,528.40L138.75,528.40M135.30,526.41L137.60,530.39M137.60,526.41L135.30,530.39" stroke="#111111" stroke-width="0.75" stroke-linecap="round" fill="none"/>
<circle cx="136.45" cy="528.40" r="0.6" fill="#111111"/>
<path d="M76.60,526.70V523.10H236.20V526.70" fill="none" stroke="#111111" stroke-width="1.2"/>
<path d="M154.10,518.50L158.70,518.50M155.25,516.51L157.55,520.49M157.55,516.51L155.25,520.49" stroke="#111111" stroke-width="0.75" stroke-linecap="round" fill="none"/>
<circle cx="156.40" cy="518.50" r="0.6" fill="#111111"/>
<path d="M187.70,568.70L191.10,568.70M188.55,567.23L190.25,570.17M190.25,567.23L188.55,570.17" stroke="#111111" stroke-width="0.8" stroke-linecap="round" fill="none"/>
<circle cx="189.40" cy="568.70" r="0.6" fill="#111111"/>
<text x="193.90" y="574.60" font-size="10.2" text-anchor="start" fill="#111111" textLength="49.60" lengthAdjust="spacingAndGlyphs" >p=&lt;0.0001</text>
<text transform="translate(22.50,670.90) rotate(-90)" x="0" y="0" font-size="14" fill="#111111" textLength="132.60" lengthAdjust="spacingAndGlyphs">Blood loss (OD597nm)</text>
<text transform="translate(264.90,508.90) scale(1.0,1)" x="0" y="0" font-size="16.5" fill="#111111">D</text>
<line x1="315.50" y1="543.10" x2="315.50" y2="666.00" stroke="#111111" stroke-width="1.6" />
<line x1="310.90" y1="546.40" x2="315.50" y2="546.40" stroke="#111111" stroke-width="1.2" />
<text x="305.80" y="550.30" font-size="10.9" text-anchor="end" fill="#111111" >350</text>
<line x1="310.90" y1="563.40" x2="315.50" y2="563.40" stroke="#111111" stroke-width="1.2" />
<text x="305.80" y="567.30" font-size="10.9" text-anchor="end" fill="#111111" >300</text>
<line x1="310.90" y1="580.40" x2="315.50" y2="580.40" stroke="#111111" stroke-width="1.2" />
<text x="305.80" y="584.30" font-size="10.9" text-anchor="end" fill="#111111" >250</text>
<line x1="310.90" y1="597.40" x2="315.50" y2="597.40" stroke="#111111" stroke-width="1.2" />
<text x="305.80" y="601.30" font-size="10.9" text-anchor="end" fill="#111111" >200</text>
<line x1="310.90" y1="614.40" x2="315.50" y2="614.40" stroke="#111111" stroke-width="1.2" />
<text x="305.80" y="618.30" font-size="10.9" text-anchor="end" fill="#111111" >150</text>
<line x1="310.90" y1="631.40" x2="315.50" y2="631.40" stroke="#111111" stroke-width="1.2" />
<text x="305.80" y="635.30" font-size="10.9" text-anchor="end" fill="#111111" >100</text>
<line x1="310.90" y1="648.40" x2="315.50" y2="648.40" stroke="#111111" stroke-width="1.2" />
<text x="305.80" y="652.30" font-size="10.9" text-anchor="end" fill="#111111" >50</text>
<line x1="310.90" y1="665.40" x2="315.50" y2="665.40" stroke="#111111" stroke-width="1.2" />
<text x="305.80" y="669.30" font-size="10.9" text-anchor="end" fill="#111111" >0</text>
<line x1="314.80" y1="665.30" x2="509.40" y2="665.30" stroke="#111111" stroke-width="1.4" />
<rect x="326.55" y="568.90" width="16.70" height="96.50" fill="#6c4a6c"/>
<line x1="334.90" y1="558.90" x2="334.90" y2="568.90" stroke="#111111" stroke-width="1.2" />
<line x1="330.10" y1="558.90" x2="339.70" y2="558.90" stroke="#111111" stroke-width="1.3" />
<line x1="334.90" y1="665.40" x2="334.90" y2="669.60" stroke="#111111" stroke-width="1.1" />
<rect x="366.65" y="650.80" width="16.70" height="14.60" fill="#d5953c"/>
<line x1="375.00" y1="650.30" x2="375.00" y2="650.80" stroke="#111111" stroke-width="1.2" />
<line x1="370.20" y1="650.30" x2="379.80" y2="650.30" stroke="#111111" stroke-width="1.3" />
<line x1="375.00" y1="665.40" x2="375.00" y2="669.60" stroke="#111111" stroke-width="1.1" />
<rect x="406.65" y="648.20" width="16.70" height="17.20" fill="#a03442"/>
<line x1="415.00" y1="647.80" x2="415.00" y2="648.20" stroke="#111111" stroke-width="1.2" />
<line x1="410.20" y1="647.80" x2="419.80" y2="647.80" stroke="#111111" stroke-width="1.3" />
<line x1="415.00" y1="665.40" x2="415.00" y2="669.60" stroke="#111111" stroke-width="1.1" />
<rect x="446.65" y="647.90" width="16.70" height="17.50" fill="#4e6482"/>
<line x1="455.00" y1="647.50" x2="455.00" y2="647.90" stroke="#111111" stroke-width="1.2" />
<line x1="450.20" y1="647.50" x2="459.80" y2="647.50" stroke="#111111" stroke-width="1.3" />
<line x1="455.00" y1="665.40" x2="455.00" y2="669.60" stroke="#111111" stroke-width="1.1" />
<rect x="486.45" y="647.30" width="16.70" height="18.10" fill="#7aaa5c"/>
<line x1="494.80" y1="646.90" x2="494.80" y2="647.30" stroke="#111111" stroke-width="1.2" />
<line x1="490.00" y1="646.90" x2="499.60" y2="646.90" stroke="#111111" stroke-width="1.3" />
<line x1="494.80" y1="665.40" x2="494.80" y2="669.60" stroke="#111111" stroke-width="1.1" />
<text x="334.90" y="685.00" font-size="10.6" text-anchor="middle" fill="#111111" >HA</text>
<text x="375.00" y="685.00" font-size="10.6" text-anchor="middle" fill="#111111" >WT</text>
<text x="415.00" y="685.00" font-size="10.6" text-anchor="middle" fill="#111111" >pF8.</text>
<text x="415.00" y="699.30" font-size="10.6" text-anchor="middle" fill="#111111" >FVIII</text>
<text x="455.00" y="685.00" font-size="10.6" text-anchor="middle" fill="#111111" >pF8.</text>
<text x="455.00" y="699.30" font-size="10.6" text-anchor="middle" fill="#111111" >RH</text>
<text x="494.80" y="685.00" font-size="10.6" text-anchor="middle" fill="#111111" >pF8.</text>
<text x="494.80" y="699.30" font-size="10.6" text-anchor="middle" fill="#111111" >N6</text>
<path d="M334.90,555.80V552.20H375.00V555.80" fill="none" stroke="#111111" stroke-width="1.2"/>
<path d="M352.65,547.60L357.25,547.60M353.80,545.61L356.10,549.59M356.10,545.61L353.80,549.59" stroke="#111111" stroke-width="0.75" stroke-linecap="round" fill="none"/>
<circle cx="354.95" cy="547.60" r="0.6" fill="#111111"/>
<path d="M334.90,546.30V542.70H415.00V546.30" fill="none" stroke="#111111" stroke-width="1.2"/>
<path d="M372.65,538.10L377.25,538.10M373.80,536.11L376.10,540.09M376.10,536.11L373.80,540.09" stroke="#111111" stroke-width="0.75" stroke-linecap="round" fill="none"/>
<circle cx="374.95" cy="538.10" r="0.6" fill="#111111"/>
<path d="M334.90,536.80V533.20H455.00V536.80" fill="none" stroke="#111111" stroke-width="1.2"/>
<path d="M392.65,528.60L397.25,528.60M393.80,526.61L396.10,530.59M396.10,526.61L393.80,530.59" stroke="#111111" stroke-width="0.75" stroke-linecap="round" fill="none"/>
<circle cx="394.95" cy="528.60" r="0.6" fill="#111111"/>
<path d="M334.90,526.90V523.30H494.80V526.90" fill="none" stroke="#111111" stroke-width="1.2"/>
<path d="M412.55,518.70L417.15,518.70M413.70,516.71L416.00,520.69M416.00,516.71L413.70,520.69" stroke="#111111" stroke-width="0.75" stroke-linecap="round" fill="none"/>
<circle cx="414.85" cy="518.70" r="0.6" fill="#111111"/>
<path d="M446.10,568.70L449.50,568.70M446.95,567.23L448.65,570.17M448.65,567.23L446.95,570.17" stroke="#111111" stroke-width="0.8" stroke-linecap="round" fill="none"/>
<circle cx="447.80" cy="568.70" r="0.6" fill="#111111"/>
<text x="452.30" y="574.60" font-size="10.2" text-anchor="start" fill="#111111" textLength="49.60" lengthAdjust="spacingAndGlyphs" >p=&lt;0.0001</text>
<text transform="translate(277.20,635.20) rotate(-90)" x="0" y="0" font-size="14.6" fill="#111111" textLength="60.10" lengthAdjust="spacingAndGlyphs">Time (sec)</text>
<rect x="0.00" y="0.00" width="520.00" height="1.60" fill="#000"/>
<rect x="0.00" y="0.00" width="1.60" height="713.00" fill="#000"/>
<rect x="518.10" y="0.00" width="1.90" height="713.00" fill="#000"/>
<rect x="0.00" y="711.10" width="520.00" height="1.90" fill="#000"/>
</svg>
</body></html>
